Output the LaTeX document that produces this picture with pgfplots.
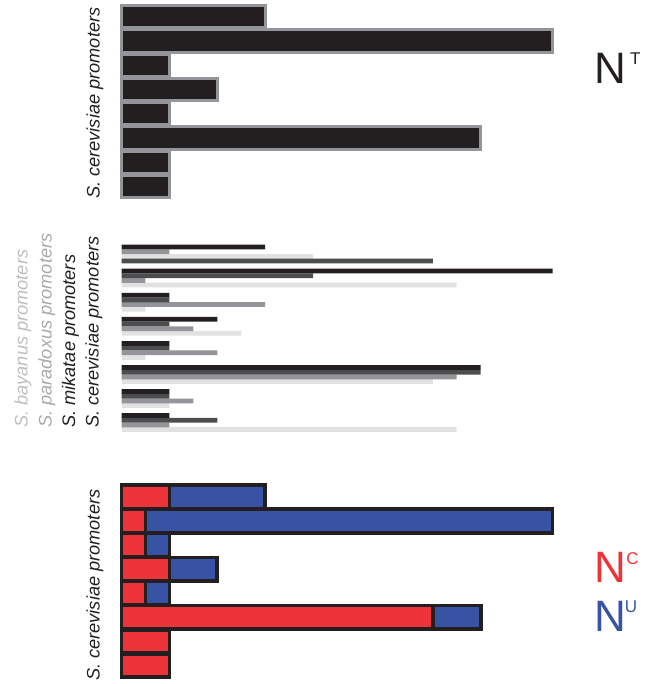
\documentclass[border=0pt]{standalone}
\usepackage{fontspec}
\setmainfont{Liberation Sans}
\usepackage{pgfplots}
\pgfplotsset{compat=1.18}
\definecolor{cblack}{HTML}{231F20}
\definecolor{cdark}{HTML}{4D4D4F}
\definecolor{cmid}{HTML}{939598}
\definecolor{clight}{HTML}{E1E1E2}
\definecolor{cred}{HTML}{EE3339}
\definecolor{cblue}{HTML}{3953A4}
\definecolor{labbay}{HTML}{BCBEC0}
\definecolor{labpar}{HTML}{A7A9AC}
\pgfplotsset{myax/.style={hide axis, scale only axis, width=431pt, height=684pt,
  xmin=0, xmax=18, ymin=0, ymax=684, y dir=reverse, clip=false,
  at={(121.5pt,0pt)}, anchor=south west}}
\begin{document}
\begin{tikzpicture}
\useasboundingbox (0,0) rectangle (649pt,684pt);
% top panel: N^T
\begin{axis}[myax]
\addplot[xbar, bar shift=0pt, bar width=22.3pt, fill=cblack, draw=cmid, line width=3pt]
 coordinates {(6,16.6) (18,40.9) (2,65.2) (4,89.5) (2,113.8) (15,138.1) (2,162.4) (2,186.7)};
\end{axis}
% middle panel: four species
\begin{axis}[myax]
\addplot[xbar, bar shift=0pt, bar width=4.75pt, fill=clight, draw=none]
 coordinates {(8,256.4) (14,285.1) (1,309.2) (5,333.3) (1,357.4) (13,381.5) (2,405.5) (14,429.6)};
\addplot[xbar, bar shift=0pt, bar width=4.75pt, fill=cmid, draw=none]
 coordinates {(2,251.7) (1,280.5) (6,304.6) (3,328.7) (4,352.8) (14,376.9) (3,400.9) (2,425.0)};
\addplot[xbar, bar shift=0pt, bar width=4.75pt, fill=cdark, draw=none]
 coordinates {(13,261.0) (8,275.8) (2,299.9) (2,324.0) (2,348.1) (15,372.2) (2,396.2) (4,420.3)};
\addplot[xbar, bar shift=0pt, bar width=4.75pt, fill=cblack, draw=none]
 coordinates {(6,247.0) (18,271.1) (2,295.2) (4,319.3) (2,343.4) (15,367.5) (2,391.5) (2,415.6)};
\end{axis}
% bottom panel: N^C and N^U
\begin{axis}[myax, xbar stacked, bar width=23.5pt]
\addplot[fill=cred, draw=cblack, line width=3.7pt]
 coordinates {(2,496.9) (1,521.0) (1,545.1) (2,569.1) (1,593.2) (13,617.3) (2,641.4) (2,665.5)};
\addplot[fill=cblue, draw=cblack, line width=3.7pt]
 coordinates {(4,496.9) (17,521.0) (1,545.1) (2,569.1) (1,593.2) (2,617.3) (0,641.4) (0,665.5)};
\end{axis}
% rotated labels
\tikzset{lab/.style={rotate=90, anchor=base west, inner sep=0pt, font=\fontsize{18.2}{20}\selectfont\itshape}}
\node[lab, text=cblack] at (99.5pt,485pt) {S. cerevisiae promoters};
\node[lab, text=labbay] at (27.5pt,256pt) {S. bayanus promoters};
\node[lab, text=labpar] at (51.5pt,256pt) {S. paradoxus promoters};
\node[lab, text=cblack] at (75pt,256pt) {S. mikatae promoters};
\node[lab, text=cblack] at (98.5pt,256pt) {S. cerevisiae promoters};
\node[lab, text=cblack] at (99.5pt,3pt) {S. cerevisiae promoters};
% N labels
\tikzset{big/.style={anchor=base west, inner sep=0pt, font=\fontsize{44}{48}\selectfont},
         sup/.style={anchor=base west, inner sep=0pt, font=\fontsize{17}{20}\selectfont}}
\node[big, text=cblack] at (594.5pt,600.7pt) {N};
\node[sup, text=cblack] at (629.8pt,619pt) {T};
\node[big, text=cred] at (594.5pt,101pt) {N};
\node[sup, text=cred] at (626.2pt,119pt) {C};
\node[big, text=cblue] at (594.5pt,52pt) {N};
\node[sup, text=cblue] at (624.7pt,71pt) {U};
\end{tikzpicture}
\end{document}
